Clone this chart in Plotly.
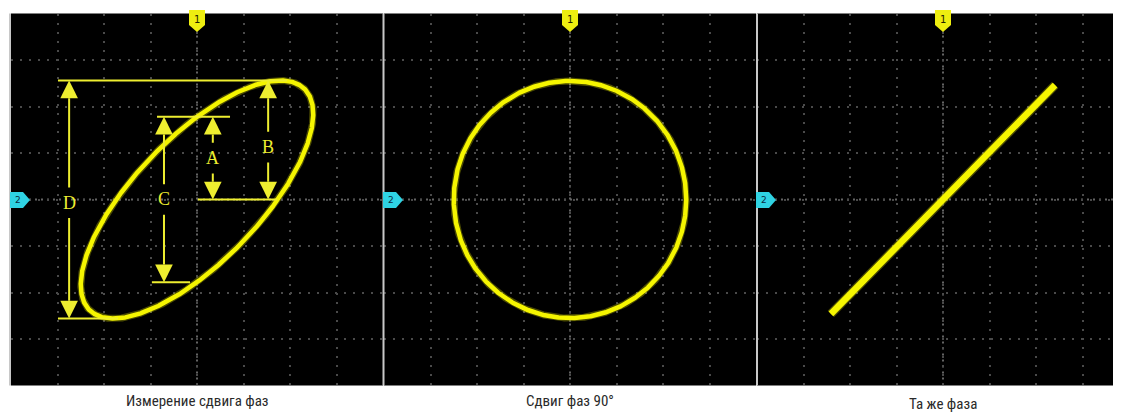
import numpy as np
import plotly.graph_objects as go

# ---------------- data ----------------
panel_titles = ["Измерение сдвига фаз", "Сдвиг фаз 90°", "Та же фаза"]
amp_x = [2.5, 2.5, 2.41]          # horizontal amplitude (divisions)
amp_y = [2.56, 2.55, 2.46]        # vertical amplitude (divisions)
phase_deg = [44, 90, 0]           # phase shift between channels
measure_labels = ["A", "B", "C", "D"]
channel_labels = ["1", "2"]

# ---------------- layout geometry (window pixels) ----------------
WIN_W, WIN_H = 1121, 414
OFF = 8                      # default body margin of the page
W, H = WIN_W - OFF, WIN_H - OFF
DIV = 46.5
centers_px = [197, 570, 943]
cy_px = 199.5
top_px, bot_px = cy_px - 4 * DIV, cy_px + 4 * DIV

def px(x):
    return (x - OFF) / W

def py(y):
    return 1 - (y - OFF) / H

YELLOW = "#f5f500"
ANN = "#eeee30"
CYAN = "#2fd3e3"

fig = go.Figure()

t = np.linspace(0, 2 * np.pi, 1441)
for i in range(3):
    ax_, ay_, ph = amp_x[i], amp_y[i], np.deg2rad(phase_deg[i])
    xs = ax_ * np.sin(t)
    ys = ay_ * np.sin(t + ph)
    suffix = "" if i == 0 else str(i + 1)
    lw = 4.5 if i < 2 else 6.5
    fig.add_trace(go.Scatter(x=xs, y=ys, mode="lines", xaxis="x" + suffix, yaxis="y" + suffix,
                             line=dict(color="rgba(245,245,0,0.3)", width=lw + 2.5),
                             hoverinfo="skip", showlegend=False))
    fig.add_trace(go.Scatter(x=xs, y=ys, mode="lines", xaxis="x" + suffix, yaxis="y" + suffix,
                             line=dict(color=YELLOW, width=lw), hoverinfo="skip", showlegend=False))

# axes
layout = dict(width=W, height=H, margin=dict(l=0, r=0, t=0, b=0),
              paper_bgcolor="white", plot_bgcolor="black", showlegend=False)
ydom = [py(bot_px), py(top_px)]
for i in range(3):
    c = centers_px[i]
    left = c - 4 * DIV
    right = min(c + 4 * DIV, WIN_W)
    xr = [-4, (right - c) / DIV]
    suffix = "" if i == 0 else str(i + 1)
    axcommon = dict(showgrid=True, gridcolor="#4a4a4a", gridwidth=2, griddash="2px,7px",
                    zeroline=False, showticklabels=False, ticks="", showline=False,
                    dtick=1, tick0=0, fixedrange=True)
    layout["xaxis" + suffix] = dict(domain=[max(px(left), 0), min(px(right), 1)], range=xr,
                                    anchor="y" + suffix, **axcommon)
    layout["yaxis" + suffix] = dict(domain=ydom, range=[-4, 4],
                                    anchor="x" + suffix, **axcommon)
fig.update_layout(**layout)

shapes = []
annotations = []

# center lines (denser dots)
for i in range(3):
    suffix = "" if i == 0 else str(i + 1)
    xr = layout["xaxis" + suffix]["range"]
    shapes.append(dict(type="line", xref="x" + suffix, yref="y" + suffix, x0=0, x1=0, y0=-4, y1=4,
                       line=dict(color="#646464", width=2, dash="2px,4px"), layer="below"))
    shapes.append(dict(type="line", xref="x" + suffix, yref="y" + suffix, x0=xr[0], x1=xr[1], y0=0, y1=0,
                       line=dict(color="#646464", width=2, dash="2px,4px"), layer="below"))

# separators between panels
for xsep in [10.0, 383.5, 757.0]:
    shapes.append(dict(type="line", xref="paper", yref="paper", x0=px(xsep), x1=px(xsep),
                       y0=py(bot_px), y1=py(top_px), line=dict(color="#c8c8c8", width=2)))

# channel markers
for i in range(3):
    c = centers_px[i]
    # yellow "1" at top
    path = (f"M {px(c-8)},{py(10)} L {px(c+8)},{py(10)} L {px(c+8)},{py(25)} "
            f"L {px(c)},{py(32)} L {px(c-8)},{py(25)} Z")
    shapes.append(dict(type="path", xref="paper", yref="paper", path=path,
                       fillcolor="#eeee10", line=dict(width=0)))
    annotations.append(dict(x=px(c), y=py(19), xref="paper", yref="paper", text=channel_labels[0],
                            showarrow=False, font=dict(size=10, color="#202000", family="DejaVu Sans"),
                            xanchor="center", yanchor="middle"))
    # cyan "2" at left edge
    left = c - 4 * DIV
    x0 = left - 1
    path = (f"M {px(x0)},{py(192)} L {px(x0+13)},{py(192)} L {px(x0+20)},{py(200)} "
            f"L {px(x0+13)},{py(208)} L {px(x0)},{py(208)} Z")
    shapes.append(dict(type="path", xref="paper", yref="paper", path=path,
                       fillcolor=CYAN, line=dict(width=0)))
    annotations.append(dict(x=px(x0 + 8), y=py(200), xref="paper", yref="paper", text=channel_labels[1],
                            showarrow=False, font=dict(size=9, color="#0a2a40", family="DejaVu Sans"),
                            xanchor="center", yanchor="middle"))

# measurement marks on panel 1 (derived from ellipse parameters)
ay0 = amp_y[0]
a_top = ay0 * np.sin(np.deg2rad(phase_deg[0]))
b_top = ay0
meas = {
    "A": dict(x=0.34, y0=0.0, y1=a_top, ly=a_top * 0.5),
    "B": dict(x=1.53, y0=0.0, y1=b_top, ly=b_top * 0.44),
    "C": dict(x=-0.71, y0=-a_top, y1=a_top, ly=0.0),
    "D": dict(x=-2.75, y0=-b_top, y1=b_top, ly=-0.07),
}
hlines = [(-2.99, 1.94, b_top), (-0.86, 0.71, a_top), (0.02, 1.72, 0.0),
          (-0.97, -0.15, -a_top), (-2.99, -1.70, -b_top)]
lw_ann = 2
for xa, xb, yy in hlines:
    shapes.append(dict(type="line", xref="x", yref="y", x0=xa, x1=xb, y0=yy, y1=yy,
                       line=dict(color=ANN, width=lw_ann)))
hw, hh, gap = 0.19, 0.38, 0.33
for lab in measure_labels:
    m = meas[lab]
    x, y0, y1, ly = m["x"], m["y0"], m["y1"], m["ly"]
    shapes.append(dict(type="path", xref="x", yref="y",
                       path=f"M {x-hw},{y1-hh} L {x+hw},{y1-hh} L {x},{y1} Z",
                       fillcolor=ANN, line=dict(width=0)))
    shapes.append(dict(type="path", xref="x", yref="y",
                       path=f"M {x-hw},{y0+hh} L {x+hw},{y0+hh} L {x},{y0} Z",
                       fillcolor=ANN, line=dict(width=0)))
    shapes.append(dict(type="line", xref="x", yref="y", x0=x, x1=x, y0=ly + gap, y1=y1 - hh,
                       line=dict(color=ANN, width=lw_ann)))
    shapes.append(dict(type="line", xref="x", yref="y", x0=x, x1=x, y0=y0 + hh, y1=ly - gap,
                       line=dict(color=ANN, width=lw_ann)))
    annotations.append(dict(x=x, y=ly, xref="x", yref="y", text=lab, showarrow=False,
                            font=dict(size=18, color=ANN, family="Liberation Serif, DejaVu Serif, serif"),
                            xanchor="center", yanchor="middle"))

# captions
cap_y = [401, 401, 404]
for i in range(3):
    annotations.append(dict(x=px(centers_px[i]), y=py(cap_y[i]), xref="paper", yref="paper",
                            text=panel_titles[i], showarrow=False,
                            font=dict(size=15, color="#2a2a2a",
                                      family="Liberation Sans Narrow, Roboto Condensed, Roboto, sans-serif"),
                            xanchor="center", yanchor="middle"))

fig.update_layout(shapes=shapes, annotations=annotations)
fig.write_html("out.html")
